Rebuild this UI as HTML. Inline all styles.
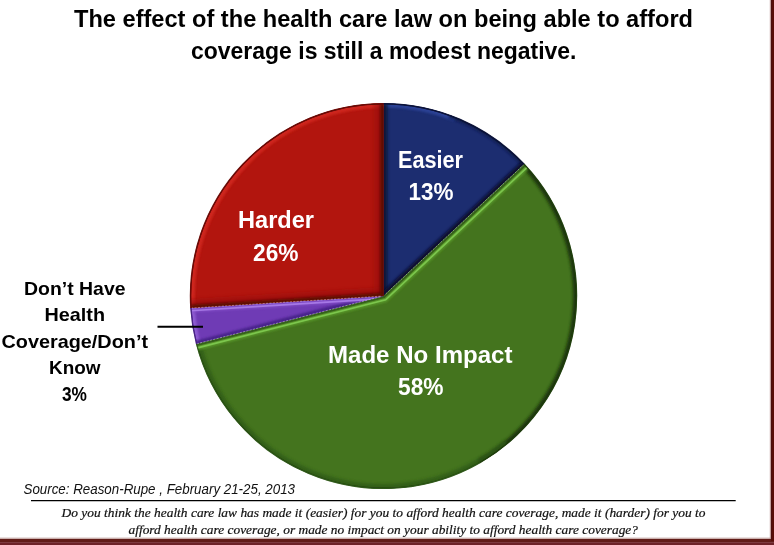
<!DOCTYPE html>
<html lang="en">
<head>
<meta charset="utf-8">
<title>The effect of the health care law on being able to afford coverage</title>
<style>
html,body{margin:0;padding:0;background:#fff;}
body{width:774px;height:545px;overflow:hidden;position:relative;font-family:"Liberation Sans",sans-serif;}
svg{display:block;position:absolute;left:0;top:0;}
.t{font-family:"Liberation Sans",sans-serif;font-weight:bold;fill:#000;}
.w{font-family:"Liberation Sans",sans-serif;font-weight:bold;fill:#fff;}
.src{font-family:"Liberation Sans",sans-serif;font-style:italic;fill:#111;}
.fn{font-family:"Liberation Serif",serif;font-style:italic;fill:#111;stroke:#111;stroke-width:0.2px;}
</style>
</head>
<body>
<svg width="774" height="545" viewBox="0 0 774 545">
<defs>
  <filter id="b1" filterUnits="userSpaceOnUse" x="0" y="0" width="774" height="545"><feGaussianBlur stdDeviation="1.2"/></filter>
  <filter id="b3" filterUnits="userSpaceOnUse" x="0" y="0" width="774" height="545"><feGaussianBlur stdDeviation="1.8"/></filter>
  <filter id="b2" filterUnits="userSpaceOnUse" x="0" y="0" width="774" height="545"><feGaussianBlur stdDeviation="0.7"/></filter>
</defs>
<rect x="0" y="0" width="774" height="545" fill="#ffffff"/>

<!-- title -->
<text class="t" x="74" y="26.5" font-size="24.4" textLength="619" lengthAdjust="spacingAndGlyphs">The effect of the health care law on being able to afford</text>
<text class="t" x="191" y="58.5" font-size="24.4" textLength="385.5" lengthAdjust="spacingAndGlyphs">coverage is still a modest negative.</text>

<!-- pie -->
<g id="pie" transform="translate(383.5,0) scale(1.0034,1) translate(-383.5,0)">
<defs>
  <clipPath id="cA"><path d="M383.5,296.0 L383.50,103.60 A192.4,192.4 0 0 1 523.75,164.29 Z"/></clipPath>
  <clipPath id="cB"><path d="M383.5,296.0 L523.75,164.29 A192.4,192.4 0 1 1 197.14,343.85 Z"/></clipPath>
  <clipPath id="cC"><path d="M383.5,296.0 L197.14,343.85 A192.4,192.4 0 0 1 191.48,308.08 Z"/></clipPath>
  <clipPath id="cD"><path d="M383.5,296.0 L191.48,308.08 A192.4,192.4 0 0 1 383.50,103.60 Z"/></clipPath>
</defs>
<path d="M383.5,296.0 L383.50,103.60 A192.4,192.4 0 0 1 523.75,164.29 Z" fill="#1c2d70" stroke="#1c2d70" stroke-width="0.7" stroke-linejoin="round"/>
<path d="M383.5,296.0 L523.75,164.29 A192.4,192.4 0 1 1 197.14,343.85 Z" fill="#44741e" stroke="#44741e" stroke-width="0.7" stroke-linejoin="round"/>
<path d="M383.5,296.0 L197.14,343.85 A192.4,192.4 0 0 1 191.48,308.08 Z" fill="#6f3bb5" stroke="#6f3bb5" stroke-width="0.7" stroke-linejoin="round"/>
<path d="M383.5,296.0 L191.48,308.08 A192.4,192.4 0 0 1 383.50,103.60 Z" fill="#b2150e" stroke="#b2150e" stroke-width="0.7" stroke-linejoin="round"/>
<g clip-path="url(#cA)">
    <path d="M383.5,296.0 L383.50,103.60 A192.4,192.4 0 0 1 523.75,164.29 Z" fill="#1c2d70"/>
    <path d="M376.79,103.72 A192.4,192.4 0 0 1 455.57,117.61" fill="none" stroke="#3049a2" stroke-width="8" filter="url(#b1)" opacity="0.75"/>
    <path d="M449.30,115.20 A192.4,192.4 0 0 1 528.26,169.27" fill="none" stroke="#101a4a" stroke-width="6" filter="url(#b1)" opacity="0.75"/>
    <path d="M383.50,296.00 L383.50,103.60" fill="none" stroke="#0b123a" stroke-width="8" filter="url(#b3)"/>
    <path d="M383.50,296.00 L523.75,164.29" fill="none" stroke="#080e2e" stroke-width="7.5" filter="url(#b3)"/>
    <path d="M376.79,103.72 A192.4,192.4 0 0 1 528.26,169.27" fill="none" stroke="#0a1030" stroke-width="1.6" filter="url(#b2)"/>
</g>
<g clip-path="url(#cB)">
    <path d="M383.5,296.0 L523.75,164.29 A192.4,192.4 0 1 1 197.14,343.85 Z" fill="#44741e"/>
    <path d="M519.07,159.48 A192.4,192.4 0 0 1 479.70,462.62" fill="none" stroke="#1a350b" stroke-width="7" filter="url(#b3)"/>
    <path d="M507.17,443.39 A192.4,192.4 0 0 1 195.59,337.32" fill="none" stroke="#2f5a14" stroke-width="9" filter="url(#b3)" opacity="0.8"/>
    <path d="M519.07,159.48 A192.4,192.4 0 1 1 195.59,337.32" fill="none" stroke="#1c380c" stroke-width="1.6" filter="url(#b2)"/>
    <path d="M523.75,164.29 L383.5,296.0 L197.14,343.85" fill="none" stroke="#5a9a2c" stroke-width="13" filter="url(#b1)" opacity="0.9"/>
    <path d="M523.75,164.29 L383.5,296.0 L197.14,343.85" fill="none" stroke="#35601a" stroke-width="4.6" filter="url(#b2)"/>
    <path d="M526.63,167.35 L385.59,299.80 L198.19,347.92" fill="none" stroke="#7cc64e" stroke-width="1.7" filter="url(#b2)"/>
</g>
<g clip-path="url(#cC)">
    <path d="M383.5,296.0 L197.14,343.85 A192.4,192.4 0 0 1 191.48,308.08 Z" fill="#6f3bb5"/>
    <path d="M198.93,350.32 A192.4,192.4 0 0 1 191.18,301.37" fill="none" stroke="#8e5cd2" stroke-width="8" filter="url(#b1)"/>
    <path d="M383.50,296.00 L197.14,343.85" fill="none" stroke="#47238a" stroke-width="6.5" filter="url(#b1)"/>
    <path d="M383.50,296.00 L191.48,308.08" fill="none" stroke="#8450c8" stroke-width="9" filter="url(#b1)" opacity="0.8"/>
    <path d="M383.66,298.59 L191.64,310.68" fill="none" stroke="#a678e6" stroke-width="1.6" filter="url(#b2)"/>
    <path d="M198.93,350.32 A192.4,192.4 0 0 1 191.18,301.37" fill="none" stroke="#4a2488" stroke-width="1.4" filter="url(#b2)"/>
</g>
<g clip-path="url(#cD)">
    <path d="M383.5,296.0 L191.48,308.08 A192.4,192.4 0 0 1 383.50,103.60 Z" fill="#b2150e"/>
    <path d="M192.02,314.77 A192.4,192.4 0 0 1 390.21,103.72" fill="none" stroke="#d42c20" stroke-width="9" filter="url(#b1)" opacity="0.8"/>
    <path d="M383.50,296.00 L191.48,308.08" fill="none" stroke="#9a110c" stroke-width="18" filter="url(#b3)" opacity="0.5"/>
    <path d="M383.50,296.00 L383.50,103.60" fill="none" stroke="#9a110c" stroke-width="20" filter="url(#b3)" opacity="0.5"/>
    <path d="M383.50,296.00 L191.48,308.08" fill="none" stroke="#5c0806" stroke-width="7" filter="url(#b3)"/>
    <path d="M383.50,296.00 L383.50,103.60" fill="none" stroke="#560806" stroke-width="7" filter="url(#b3)" opacity="0.92"/>
    <path d="M192.02,314.77 A192.4,192.4 0 0 1 390.21,103.72" fill="none" stroke="#5e0906" stroke-width="1.6" filter="url(#b2)"/>
</g>
<path d="M385.69,293.95 L523.02,164.98" fill="none" stroke="#ffffff" stroke-width="0.7" stroke-dasharray="2.2 1.2" opacity="0.55"/>
<path d="M380.59,296.75 L198.11,343.60" fill="none" stroke="#ffffff" stroke-width="0.7" stroke-dasharray="2.2 1.2" opacity="0.55"/>
<path d="M380.51,296.19 L192.48,308.02" fill="none" stroke="#ffffff" stroke-width="0.7" stroke-dasharray="2.2 1.2" opacity="0.55"/>
<path d="M383.50,103.60 A192.4,192.4 0 0 1 523.75,164.29" fill="none" stroke="#0b1236" stroke-width="1.3" opacity="0.9"/>
<path d="M523.75,164.29 A192.4,192.4 0 0 1 479.70,462.62" fill="none" stroke="#1f3d0d" stroke-width="1.3" opacity="0.9"/>
<path d="M479.70,462.62 A192.4,192.4 0 0 1 197.14,343.85" fill="none" stroke="#30591a" stroke-width="1.3" opacity="0.9"/>
<path d="M197.14,343.85 A192.4,192.4 0 0 1 191.48,308.08" fill="none" stroke="#45227e" stroke-width="1.3" opacity="0.9"/>
<path d="M191.48,308.08 A192.4,192.4 0 0 1 383.50,103.60" fill="none" stroke="#650a07" stroke-width="1.3" opacity="0.9"/>
</g>

<!-- leader line -->
<line x1="157.5" y1="326.8" x2="203" y2="326.8" stroke="#000" stroke-width="1.9"/>

<!-- pie labels -->
<text class="w" x="398" y="167.8" font-size="24.4" textLength="65" lengthAdjust="spacingAndGlyphs">Easier</text>
<text class="w" x="408.5" y="200.1" font-size="24.7" textLength="45" lengthAdjust="spacingAndGlyphs">13%</text>
<text class="w" x="238" y="227.8" font-size="24.4" textLength="76" lengthAdjust="spacingAndGlyphs">Harder</text>
<text class="w" x="253" y="261" font-size="24.7" textLength="45.5" lengthAdjust="spacingAndGlyphs">26%</text>
<text class="w" x="328" y="362.8" font-size="24.4" textLength="184.5" lengthAdjust="spacingAndGlyphs">Made No Impact</text>
<text class="w" x="398" y="395.1" font-size="24.7" textLength="45.5" lengthAdjust="spacingAndGlyphs">58%</text>

<!-- outside label -->
<text class="t" x="24" y="294.6" font-size="19" textLength="101.5" lengthAdjust="spacingAndGlyphs">Don’t Have</text>
<text class="t" x="44.5" y="321.1" font-size="19" textLength="60.5" lengthAdjust="spacingAndGlyphs">Health</text>
<text class="t" x="1.5" y="347.6" font-size="19" textLength="146.5" lengthAdjust="spacingAndGlyphs">Coverage/Don’t</text>
<text class="t" x="49" y="374.4" font-size="19" textLength="51.5" lengthAdjust="spacingAndGlyphs">Know</text>
<text class="t" x="62" y="400.9" font-size="19.3" textLength="25" lengthAdjust="spacingAndGlyphs">3%</text>

<!-- source -->
<text class="src" x="23.5" y="494" font-size="14.5" textLength="271.5" lengthAdjust="spacingAndGlyphs">Source: Reason-Rupe , February 21-25, 2013</text>
<line x1="31" y1="500.6" x2="735.7" y2="500.6" stroke="#000" stroke-width="1.2"/>
<text class="fn" x="61.5" y="517.4" font-size="12.5" textLength="644" lengthAdjust="spacingAndGlyphs">Do you think the health care law has made it (easier) for you to afford health care coverage, made it (harder) for you to</text>
<text class="fn" x="128.5" y="533.5" font-size="12.5" textLength="509.5" lengthAdjust="spacingAndGlyphs">afford health care coverage, or made no impact on your ability to afford health care coverage?</text>

<!-- frame -->
<rect x="0" y="537.6" width="771" height="1.4" fill="#b99693" opacity="0.75"/>
<rect x="0" y="539" width="774" height="3.4" fill="#611c18"/>
<rect x="0" y="542.2" width="774" height="2.8" fill="#6d2228"/>
<rect x="769.8" y="0" width="1.4" height="539" fill="#b58a88" opacity="0.8"/>
<rect x="771" y="0" width="3" height="541" fill="#590d08"/>
<rect x="771" y="0" width="1" height="540" fill="#4b0d0b"/>
</svg>
</body>
</html>
